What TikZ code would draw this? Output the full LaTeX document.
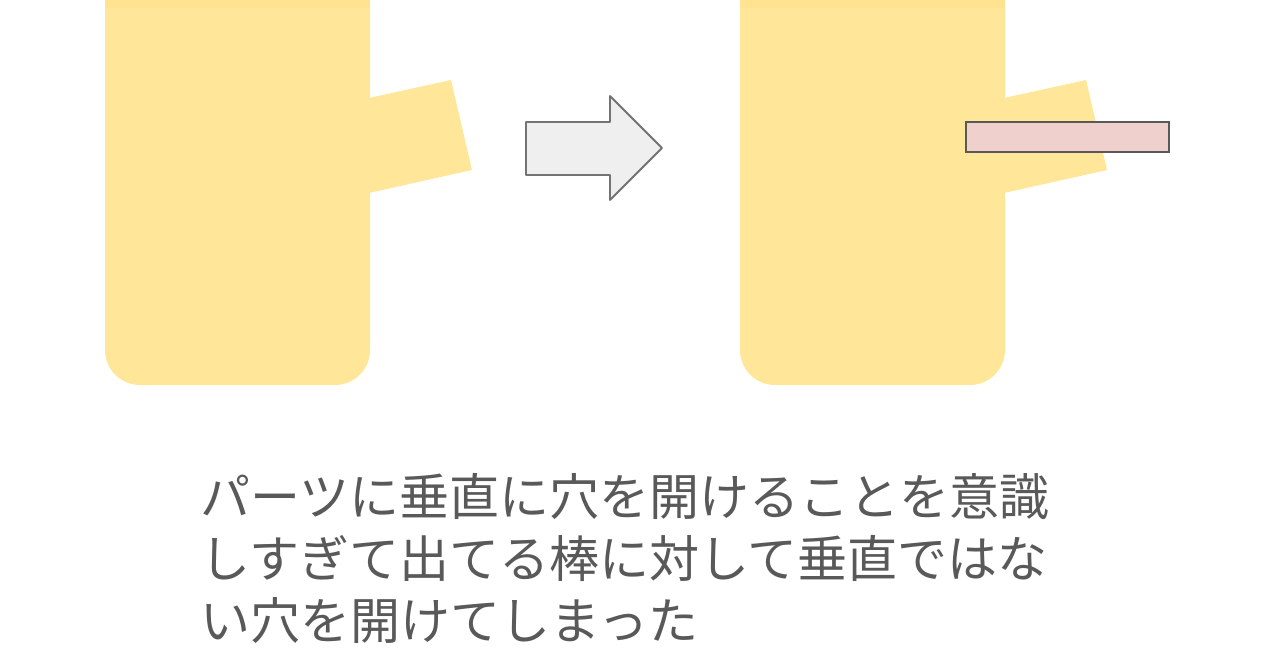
\documentclass[tikz,border=0pt]{standalone}
\usepackage{fontspec}
\newfontfamily\jpfont{Noto Sans CJK JP}
\definecolor{partfill}{HTML}{FFE699}
\definecolor{parttop}{HTML}{FFE390}
\definecolor{rodfill}{HTML}{EFD0CC}
\definecolor{arrowfill}{HTML}{EFEFEF}
\definecolor{textgray}{HTML}{595959}
\tikzset{
  part/.style={fill=partfill},
  rod/.style={fill=rodfill, draw=black!65, line width=2pt},
  bigarrow/.style={fill=arrowfill, draw=black!55, line width=1.8pt, line join=round},
}

\begin{document}
\begin{tikzpicture}[x=1pt,y=-1pt]
  \useasboundingbox (0,0) rectangle (1280,669);
  % 1
  \fill[part] (105,0) [rounded corners=35pt] -- (105,385) -- (370,385) [sharp corners] -- (370,0) -- cycle;
  \fill[part] (369,98) -- (451,80) -- (472,170) -- (369,193) -- cycle;
  \fill[parttop] (105,0) rectangle (370,8);
  % arrow
  \draw[bigarrow] (526,122) -- (610,122) -- (610,96) -- (662,148) -- (610,200) -- (610,175) -- (526,175) -- cycle;
  % 2
  \fill[part] (740,0) [rounded corners=35pt] -- (740,385) -- (1005,385) [sharp corners] -- (1005,0) -- cycle;
  \fill[part] (1004,98) -- (1086,80) -- (1107,170) -- (1004,193) -- cycle;
  \fill[parttop] (740,0) rectangle (1005,8);
  \draw[rod] (966,122) rectangle (1169,152);
  % caption
  \node[anchor=north west, inner sep=0pt, align=left, text=textgray,
        font=\jpfont\fontsize{50}{62}\selectfont] (caption) at (200,473)
    {パーツに垂直に穴を開けることを意識\\しすぎて出てる棒に対して垂直ではな\\い穴を開けてしまった};
\end{tikzpicture}
\end{document}
